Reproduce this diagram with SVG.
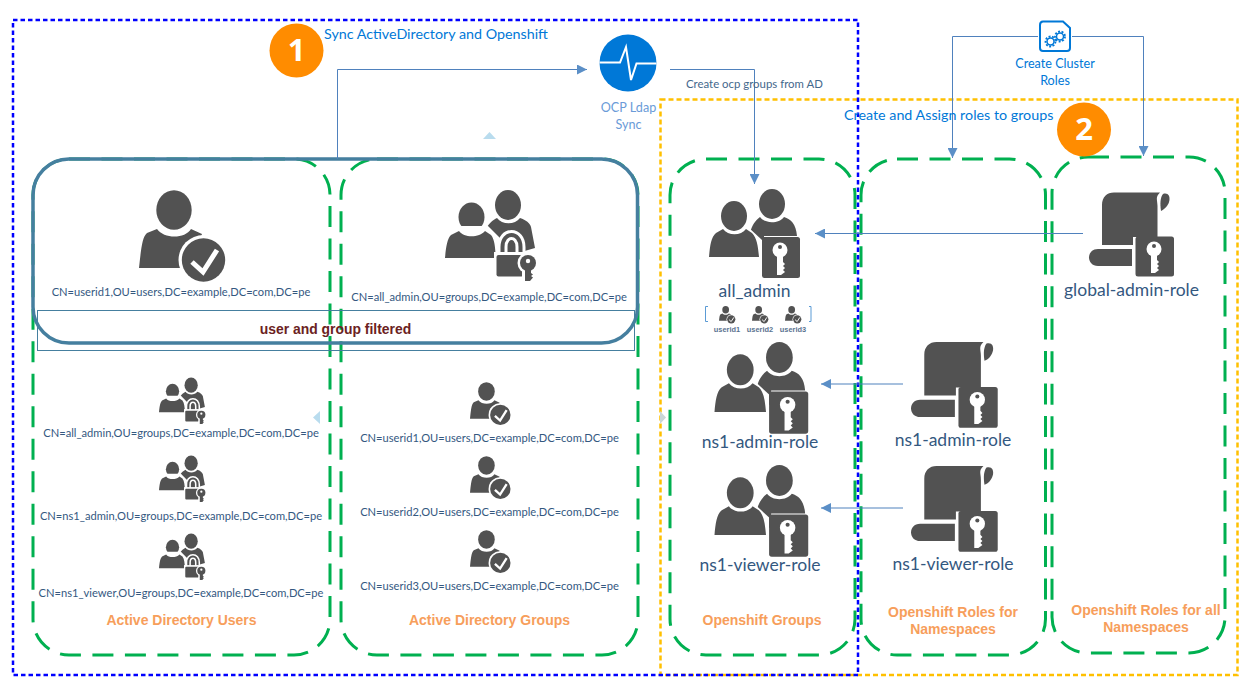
<svg xmlns="http://www.w3.org/2000/svg" width="1248" height="689" viewBox="0 0 1248 689">
<style>
text{font-family:"Lato","Liberation Sans",sans-serif}
.green{fill:none;stroke:#00b050;stroke-width:3;stroke-dasharray:21 11.5}
.conn{fill:none;stroke:#4f81bd;stroke-width:1;marker-end:url(#arr)}
.cn{font-size:11.15px;fill:#34587f;text-anchor:middle}
.name{font-size:17.5px;fill:#34587f;text-anchor:middle}
.uid{font-size:7.4px;font-weight:bold;fill:#5a7390;text-anchor:middle;font-family:"Liberation Sans",sans-serif}
.cap{font-size:14px;font-weight:bold;fill:#f79e5b;text-anchor:middle;font-family:"Liberation Sans",sans-serif}
.blue{font-size:14.3px;fill:#0078d7}
.num{font-size:31px;font-weight:bold;fill:#fff;text-anchor:middle;font-family:"Open Sans",sans-serif}
.d{fill:#525252}
.w{fill:#fff}
.tri{fill:#b9dcee}
</style>
<defs>
<marker id="arr" markerUnits="userSpaceOnUse" markerWidth="10" markerHeight="10" refX="10" refY="5" orient="auto"><path d="M0,0L10,5L0,10Z" fill="#5b8fc7"/></marker>
<g id="personCheck">
<ellipse class="d" cx="174" cy="210" rx="17.7" ry="19.7"/>
<path class="d" d="M139,268C141,250 142,237 147,233L157,229C164,239 185,239 191,229L202,234L190,268Z"/>
<circle class="w" cx="203.5" cy="260" r="25"/>
<circle class="d" cx="203.5" cy="260" r="21.7"/>
<path d="M192,262L203,272L217,250" fill="none" stroke="#fff" stroke-width="5"/>
</g>
<g id="groupLock">
<ellipse class="d" cx="508" cy="205" rx="13" ry="15"/>
<path class="d" d="M486,229C489,223 493,220 497,218C502,225 515,225 520,218C526,220 530,223 531,227L535,248L500,258Z"/>
<ellipse class="d" cx="471.500" cy="217" rx="13" ry="14.500"/>
<path class="w" d="M442,262L444,236L456,226L488,226L500,238L500,262Z"/>
<path class="d" d="M445,258C446,248 447,239 451,235L459,231C464,238 479,238 485,231L491,235C495,240 495,248 496,258Z"/>
<path fill="none" stroke="#fff" stroke-width="10" d="M502.500,258V247C502.500,231 520.500,231 520.500,247V258"/>
<path fill="none" stroke="#525252" stroke-width="4" d="M502.500,258V247C502.500,231 520.500,231 520.500,247V258"/>
<rect class="w" x="494" y="252" width="32" height="27"/>
<rect class="d" x="496.500" y="255" width="27" height="21.500" rx="2"/>
<circle class="w" cx="528" cy="263" r="10.500"/>
<rect class="w" x="522" y="268" width="12" height="15"/>
<circle class="d" cx="528" cy="263" r="8"/>
<circle class="w" cx="528" cy="261" r="2.200"/>
<path class="d" d="M525,268H531V273L533,274.500L531,276L533,277.500L530,281H525Z"/>
</g>
<g id="groupKey">
<ellipse class="d" cx="772" cy="204" rx="13" ry="15"/>
<path class="d" d="M750,233C752,225 755,221 760,217C765,224 779,224 784,217C791,219 796,224 797,236H764V250H754Z"/>
<path class="w" d="M706,260L708,238L720,227L748,227L762,240V260Z"/>
<ellipse class="d" cx="734" cy="216" rx="13" ry="15"/>
<path class="d" d="M709,257C710,246 711,237 716,233L723,229C728,236 741,236 746,229L752,233C757,238 758,246 759,257Z"/>
<rect class="d" x="762" y="237" width="38" height="41" rx="2.500"/>
<circle class="w" cx="780" cy="250" r="7.500"/>
<circle class="d" cx="780" cy="247" r="2"/>
<path class="w" d="M777,255H783V262L785,264L783,266L785,268L783,270L785,272L781,275H777Z"/>
</g>
<g id="scrollKey">
<path class="d" d="M1102,245V205C1102,197 1107,192.500 1114,192.500H1160C1155,197 1157.500,200 1157.500,206V237H1133V245Z"/>
<path class="d" d="M1163,194C1172,191 1172,206 1161,211C1160,204 1160,198 1163,194Z"/>
<path class="d" d="M1098,249H1132V266H1098C1086,266 1086,249 1098,249Z"/>
<rect class="d" x="1135.500" y="236.500" width="38.500" height="40" rx="2.500"/>
<circle class="w" cx="1154" cy="249" r="7.500"/>
<circle class="d" cx="1154" cy="246" r="2"/>
<path class="w" d="M1151,254H1157V260L1159,262L1157,264L1159,266L1157,268L1159,270L1155,273H1151Z"/>
</g>
</defs>
<rect width="1248" height="689" fill="#fff"/>
<g id="containers">
<rect id="ad-users" class="green" x="33" y="159" width="297" height="496" rx="36"/>
<rect id="ad-groups" class="green" x="341" y="159" width="297" height="496" rx="36"/>
<rect id="ocp-groups" class="green" x="670" y="159" width="185" height="496" rx="36"/>
<rect id="ns-roles" class="green" x="861" y="159" width="184.500" height="496" rx="36"/>
<rect id="all-roles" class="green" x="1052" y="157" width="173" height="496" rx="36"/>
</g>
<rect id="sync-frame-orange" x="660.500" y="99.500" width="577" height="575.500" fill="none" stroke="#ffc000" stroke-width="2.500" stroke-dasharray="5 3"/>
<rect id="sync-frame-blue" x="13" y="20" width="845" height="655" fill="none" stroke="#0000ff" stroke-width="2.500" stroke-dasharray="4.500 3"/>
<g id="filter">
<rect x="33" y="159" width="604.500" height="184" rx="36" fill="none" stroke="#457f9f" stroke-width="3.500"/>
<rect x="37.500" y="310.500" width="597" height="40" fill="none" stroke="#457f9f" stroke-width="1"/>
<text x="335.500" y="334" font-size="13.900" font-weight="bold" fill="#6b2222" text-anchor="middle" style="font-family:'Liberation Sans',sans-serif">user and group filtered</text>
</g>
<g id="connectors">
<path class="conn" d="M337.500,159V69.500H587"/>
<path class="conn" d="M670,69.500H754.500V184"/>
<path class="conn" d="M1038,36.500H952.500V158"/>
<path class="conn" d="M1072,36.500H1143.500V156"/>
<path class="conn" d="M1083,233.500H815"/>
<path class="conn" d="M903,384H821"/>
<path class="conn" d="M903,508H821"/>
</g>
<path class="tri" d="M483,139L489.500,132L496,139Z"/>
<path class="tri" d="M320,411L313,417.500L320,424Z"/>
<path d="M660,411L666,417.500L660,424Z" fill="#c9d6d6"/>
<g id="step1"><circle cx="296.500" cy="50.500" r="27" fill="#ff8c00"/><text class="num" x="296.500" y="61">1</text></g>
<text id="sync-title" class="blue" x="324" y="39">Sync ActiveDirectory and Openshift</text>
<g id="ldap">
<circle cx="628" cy="63" r="28.500" fill="#0078d7"/>
<path d="M599.500,62.500H620L626,47L631,80L636.500,63.500H656.500" fill="none" stroke="#fff" stroke-width="2"/>
<text x="628.500" y="112" font-size="12.600" fill="#6a9bd8" text-anchor="middle">OCP Ldap</text>
<text x="628.500" y="129" font-size="12.600" fill="#6a9bd8" text-anchor="middle">Sync</text>
</g>
<text id="create-ocp" x="686" y="88" font-size="11.400" fill="#44688c">Create ocp groups from AD</text>
<g id="cluster">
<path d="M1043,21.500H1063L1070,28V48C1070,50 1069,51 1067,51H1043C1041,51 1040,50 1040,48V25C1040,22.500 1041,21.500 1043,21.500Z" fill="#fff" stroke="#0078d7" stroke-width="2"/>
<circle cx="1050.500" cy="41.500" r="3.500" fill="none" stroke="#0078d7" stroke-width="1.500"/>
<circle cx="1050.500" cy="41.500" r="5" fill="none" stroke="#0078d7" stroke-width="1.800" stroke-dasharray="2 1.500"/>
<circle cx="1060" cy="36.500" r="3.500" fill="none" stroke="#0078d7" stroke-width="1.500"/>
<circle cx="1060" cy="36.500" r="5" fill="none" stroke="#0078d7" stroke-width="1.800" stroke-dasharray="2 1.500"/>
<text x="1055" y="68" font-size="12.600" fill="#0078d7" text-anchor="middle">Create Cluster</text>
<text x="1055" y="85" font-size="12.600" fill="#0078d7" text-anchor="middle">Roles</text>
</g>
<text id="assign-title" class="blue" x="844" y="120">Create and Assign roles to groups</text>
<g id="step2"><circle cx="1084" cy="129.500" r="27" fill="#ff8c00"/><text class="num" x="1084" y="140">2</text></g>
<g id="user-top"><use href="#personCheck"/><text class="cn" x="181" y="296">CN=userid1,OU=users,DC=example,DC=com,DC=pe</text></g>
<g id="group-top"><use href="#groupLock"/><text class="cn" x="489" y="301">CN=all_admin,OU=groups,DC=example,DC=com,DC=pe</text></g>
<g id="ad-all-admin"><use href="#groupLock" transform="translate(159,378) scale(.51) translate(-445,-191)"/><text class="cn" x="181" y="437">CN=all_admin,OU=groups,DC=example,DC=com,DC=pe</text></g>
<g id="ad-ns1-admin"><use href="#groupLock" transform="translate(159,456) scale(.51) translate(-445,-191)"/><text class="cn" x="181" y="520">CN=ns1_admin,OU=groups,DC=example,DC=com,DC=pe</text></g>
<g id="ad-ns1-viewer"><use href="#groupLock" transform="translate(159,534) scale(.51) translate(-445,-191)"/><text class="cn" x="181" y="597">CN=ns1_viewer,OU=groups,DC=example,DC=com,DC=pe</text></g>
<g id="ad-user1"><use href="#personCheck" transform="translate(470,382) scale(.47) translate(-139,-190)"/><text class="cn" x="489.500" y="442">CN=userid1,OU=users,DC=example,DC=com,DC=pe</text></g>
<g id="ad-user2"><use href="#personCheck" transform="translate(470,456) scale(.47) translate(-139,-190)"/><text class="cn" x="489.500" y="516">CN=userid2,OU=users,DC=example,DC=com,DC=pe</text></g>
<g id="ad-user3"><use href="#personCheck" transform="translate(470,530) scale(.47) translate(-139,-190)"/><text class="cn" x="489.500" y="590">CN=userid3,OU=users,DC=example,DC=com,DC=pe</text></g>
<text class="cap" x="181.500" y="625">Active Directory Users</text>
<text class="cap" x="489.500" y="625">Active Directory Groups</text>
<g id="ocp-all-admin"><use href="#groupKey"/><text class="name" x="754.500" y="297">all_admin</text>
<path d="M708,306.500H705.500V321.500H708M809,306.500H811V321.500H809" fill="none" stroke="#5b9bd5" stroke-width="1"/>
<use href="#personCheck" transform="translate(719,306) scale(.19) translate(-139,-190)"/>
<use href="#personCheck" transform="translate(752,306) scale(.19) translate(-139,-190)"/>
<use href="#personCheck" transform="translate(785,306) scale(.19) translate(-139,-190)"/>
<text class="uid" x="727" y="332">userid1</text><text class="uid" x="760" y="332">userid2</text><text class="uid" x="793" y="332">userid3</text></g>
<g id="ocp-ns1-admin"><use href="#groupKey" transform="translate(714.500,342) scale(1.03) translate(-709,-189)"/><text class="name" x="760" y="448">ns1-admin-role</text></g>
<g id="ocp-ns1-viewer"><use href="#groupKey" transform="translate(714.500,465) scale(1.03) translate(-709,-189)"/><text class="name" x="760" y="571">ns1-viewer-role</text></g>
<g id="role-global"><use href="#scrollKey"/><text class="name" x="1131.500" y="296">global-admin-role</text></g>
<g id="role-ns1-admin"><use href="#scrollKey" transform="translate(910,342) scale(1.02) translate(-1088,-192.500)"/><text class="name" x="953" y="446">ns1-admin-role</text></g>
<g id="role-ns1-viewer"><use href="#scrollKey" transform="translate(910,466) scale(1.02) translate(-1088,-192.500)"/><text class="name" x="953" y="570">ns1-viewer-role</text></g>
<text class="cap" x="762" y="625">Openshift Groups</text>
<text class="cap" x="953" y="617">Openshift Roles for</text>
<text class="cap" x="953" y="634">Namespaces</text>
<text class="cap" x="1146" y="615">Openshift Roles for all</text>
<text class="cap" x="1146" y="632">Namespaces</text>
</svg>
